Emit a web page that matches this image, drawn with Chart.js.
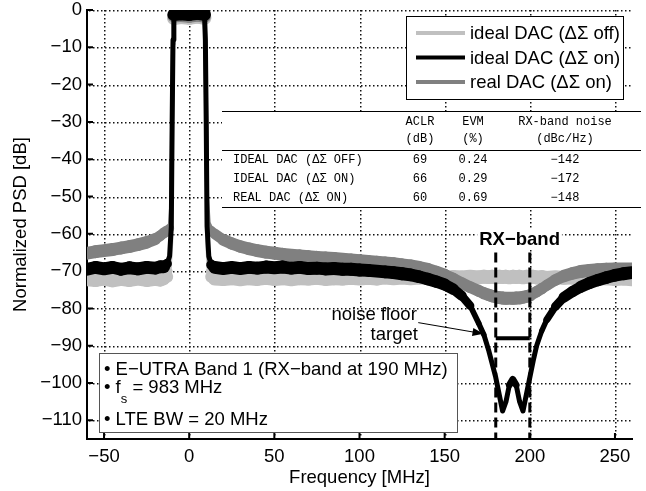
<!DOCTYPE html>
<html>
<head>
<meta charset="utf-8">
<title>Normalized PSD</title>
<script src="https://cdn.jsdelivr.net/npm/chart.js@4.4.1/dist/chart.umd.min.js"></script>
<style>
  html, body { margin: 0; padding: 0; background: #fff; }
  #psdChart { display: block; }
</style>
</head>
<body>
<canvas id="psdChart" width="646" height="491"></canvas>
<script>
// ===============================
//  DATA
// ===============================
const freqMHz = [
  -60, -55, -50, -45, -40, -35, -30, -25, -20, -17, -15, -13, -11.5, -10.5, -10, -9.5, -9,
  -5, 0, 5, 9, 9.5, 10, 10.5, 11.5, 13, 15,
  20, 25, 30, 35, 40, 45, 50, 55, 60, 65, 70, 75, 80, 85, 90, 95, 100, 105, 110, 115, 120,
  125, 130, 135, 140, 145, 150, 155, 160, 165, 170,
  173, 176, 178, 180, 182, 184, 186, 188, 190, 192, 194, 196, 198, 200,
  202, 204, 207, 210, 215, 220, 225, 230, 235, 240, 245, 250, 255, 260
];

const idealOffPsd = [
  -72.2, -72.4, -72.0, -72.5, -72.1, -72.4, -72.0, -72.4, -72.1, -72.3, -72.0, -71.5, -70.0, -62, -32, -9, -2.2,
  -1.9, -2.1, -1.8, -2.1, -9, -32, -62, -70.0, -71.5, -72.0,
  -72.1, -71.9, -72.2, -71.9, -72.1, -71.8, -72.1, -71.9, -72.2, -71.9, -72.0, -71.8, -72.1, -71.9, -72.0, -71.8, -72.0, -71.8, -72.0, -71.7, -71.9,
  -71.7, -71.9, -71.7, -71.8, -71.6, -71.8, -71.6, -71.7, -71.5, -71.7,
  -71.5, -71.6, -71.5, -71.7, -71.5, -71.6, -71.5, -71.7, -71.5, -71.6, -71.5, -71.7, -71.5, -71.6,
  -71.5, -71.7, -71.6, -71.8, -71.6, -71.8, -71.7, -71.9, -71.8, -72.0, -71.9, -72.1, -72.0, -72.2
];

const idealOnPsd = [
  -69.5, -69.0, -69.4, -69.0, -69.5, -69.1, -69.4, -69.0, -69.2, -68.8, -68.8, -68.0, -66.0, -58, -30, -8, -1.2,
  -1.0, -1.2, -0.9, -1.2, -8, -30, -58, -66.0, -68.3, -69.0,
  -69.3, -69.0, -69.3, -69.0, -69.2, -68.9, -69.1, -68.9, -69.2, -69.0, -69.3, -69.2, -69.4, -69.3, -69.5, -69.5, -69.7, -69.8, -70.0, -70.2, -70.4,
  -70.7, -71.0, -71.5, -72.1, -72.8, -73.6, -74.8, -76.6, -79.3, -84.0,
  -87.0, -91.5, -95.0, -98.5, -103.0, -107.5, -105.0, -100.5, -99.0, -100.5, -105.0, -107.5, -103.0, -98.5,
  -94.0, -90.0, -86.0, -83.0, -79.5, -77.0, -75.5, -74.2, -73.2, -72.4, -71.7, -71.1, -70.7, -70.4
];

const realOnPsd = [
  -65.2, -64.8, -64.5, -64.2, -63.8, -63.4, -62.9, -62.3, -61.4, -60.5, -59.8, -59.2, -58.5, -52, -28, -8, -1.6,
  -1.5, -1.7, -1.4, -1.7, -8, -28, -50, -57.5, -59.0, -60.0,
  -61.6, -62.6, -63.4, -64.0, -64.5, -64.9, -65.2, -65.5, -65.7, -65.9, -66.1, -66.3, -66.5, -66.6, -66.8, -67.0, -67.2, -67.4, -67.6, -67.8, -68.0,
  -68.3, -68.6, -69.0, -69.5, -70.2, -71.0, -72.0, -73.2, -74.3, -75.3,
  -75.9, -76.4, -76.7, -76.9, -77.1, -77.2, -77.3, -77.3, -77.3, -77.2, -77.2, -77.0, -76.8, -76.5,
  -76.0, -75.5, -74.7, -73.8, -72.4, -71.3, -70.6, -70.1, -69.8, -69.6, -69.5, -69.4, -69.4, -69.4
];

const seriesLabels = ['ideal DAC (\u0394\u03A3 off)', 'ideal DAC (\u0394\u03A3 on)', 'real DAC (\u0394\u03A3 on)'];
const seriesColors = ['#c0c0c0', '#000000', '#808080'];

const xRange = [-60, 260];
const yRange = [-115, 0];
const xTickValues = [-50, 0, 50, 100, 150, 200, 250];
const yTickValues = [0, -10, -20, -30, -40, -50, -60, -70, -80, -90, -100, -110];

const rxBandEdges = [180, 200];
const rxBandLineTop = -65;
const noiseFloorTarget = -88;

const tableHead1 = ['ACLR', 'EVM', 'RX-band noise'];
const tableHead2 = ['(dB)', '(%)', '(dBc/Hz)'];
const tableRows = ['IDEAL DAC (\u0394\u03A3 OFF)', 'IDEAL DAC (\u0394\u03A3 ON)', 'REAL DAC (\u0394\u03A3 ON)'];
const aclrDb = [69, 66, 60];
const evmPct = ['0.24', '0.29', '0.69'];
const rxNoiseDbcHz = [-142, -172, -148];

const minus = v => String(v).replace('-', '\u2212');
const toXY = vals => freqMHz.map((f, i) => ({ x: f, y: vals[i] }));

// noisy traces look like a band: thick when flat, thinner when steep
function noiseBand(band, minW) {
    return ctx => {
        const dx = ctx.p1.x - ctx.p0.x;
        const dy = ctx.p1.y - ctx.p0.y;
        const len = Math.hypot(dx, dy) || 1;
        return Math.max(minW, band * Math.abs(dx) / len);
    };
}

const FONT = '"Liberation Sans", Arial, Helvetica, sans-serif';
const MONO = '"Liberation Mono", "Courier New", monospace';

// ===============================
//  DOTTED GRID (painted behind what is already drawn)
// ===============================
function drawDottedGrid(chart) {
    const { ctx, chartArea: a, scales: { x, y } } = chart;
    ctx.save();
    ctx.globalCompositeOperation = 'destination-over';
    ctx.fillStyle = '#111';
    xTickValues.forEach(v => {
        const p = Math.round(x.getPixelForValue(v));
        for (let q = Math.ceil(a.top); q < a.bottom; q += 4) ctx.fillRect(p, q, 1.5, 1.5);
    });
    yTickValues.forEach(v => {
        const p = Math.round(y.getPixelForValue(v));
        for (let q = Math.ceil(a.left) + 2; q < a.right; q += 4) ctx.fillRect(q, p, 1.5, 1.5);
    });
    ctx.restore();
}

// ===============================
//  OVERLAY: legend, table, notes, ticks
// ===============================
const overlay = {
    id: 'overlay',
    afterDatasetsDraw(chart) {
        drawDottedGrid(chart);
    },
    afterDraw(chart) {
        const { ctx, chartArea: a, scales: { x, y } } = chart;
        const px = v => x.getPixelForValue(v);
        const py = v => y.getPixelForValue(v);
        ctx.save();
        ctx.globalCompositeOperation = 'source-over';

        // legend
        ctx.fillStyle = '#fff';
        ctx.fillRect(406, 16, 217, 83);
        ctx.lineWidth = 1;
        ctx.strokeStyle = '#000';
        ctx.strokeRect(406.5, 16.5, 217, 83);
        ctx.font = '18.5px ' + FONT;
        ctx.textBaseline = 'middle';
        ctx.textAlign = 'left';
        seriesLabels.forEach((lbl, i) => {
            const ry = 33 + i * 24.5;
            ctx.strokeStyle = seriesColors[i];
            ctx.lineWidth = 4;
            ctx.beginPath();
            ctx.moveTo(416, ry);
            ctx.lineTo(465, ry);
            ctx.stroke();
            ctx.fillStyle = '#000';
            ctx.fillText(lbl, 470, ry + 1);
        });

        // table
        ctx.fillStyle = '#fff';
        ctx.fillRect(222, 111, 419, 96);
        ctx.strokeStyle = '#000';
        ctx.lineWidth = 1;
        ctx.beginPath();
        [111.5, 150.5, 207.5].forEach(ly => { ctx.moveTo(222, ly); ctx.lineTo(641, ly); });
        ctx.stroke();
        ctx.fillStyle = '#000';
        ctx.font = '12px ' + MONO;
        const colX = [420, 473, 565];
        ctx.textAlign = 'center';
        tableHead1.forEach((t, i) => ctx.fillText(t, colX[i], 122));
        tableHead2.forEach((t, i) => ctx.fillText(t, colX[i], 139));
        tableRows.forEach((name, r) => {
            const ry = 160 + r * 19;
            ctx.textAlign = 'left';
            ctx.fillText(name, 233, ry);
            ctx.textAlign = 'center';
            ctx.fillText(String(aclrDb[r]), colX[0], ry);
            ctx.fillText(evmPct[r], colX[1], ry);
            ctx.fillText(minus(rxNoiseDbcHz[r]), colX[2], ry);
        });

        // info box
        ctx.fillStyle = '#fff';
        ctx.fillRect(99, 353, 358, 79);
        ctx.strokeStyle = '#555';
        ctx.lineWidth = 1;
        ctx.strokeRect(99.5, 353.5, 358, 79);
        ctx.fillStyle = '#000';
        ctx.textAlign = 'left';
        ctx.font = '18.5px ' + FONT;
        ctx.fillText('\u2022 E\u2212UTRA Band 1 (RX\u2212band at 190 MHz)', 104, 370);
        const fPart = '\u2022 f';
        ctx.fillText(fPart, 104, 388);
        const fw = ctx.measureText(fPart).width;
        ctx.font = '13px ' + FONT;
        ctx.fillText('s', 104 + fw, 399);
        const sw = ctx.measureText('s').width;
        ctx.font = '18.5px ' + FONT;
        ctx.fillText(' = 983 MHz', 104 + fw + sw, 388);
        ctx.fillText('\u2022 LTE BW = 20 MHz', 104, 420);

        // RX-band label
        ctx.font = 'bold 18.5px ' + FONT;
        ctx.textAlign = 'center';
        const rxLbl = 'RX\u2212band';
        const rw = ctx.measureText(rxLbl).width;
        const lx = px(194), ly = py(-61.3);
        ctx.fillStyle = '#fff';
        ctx.fillRect(lx - rw / 2 - 2, ly - 10, rw + 4, 20);
        ctx.fillStyle = '#000';
        ctx.fillText(rxLbl, lx, ly + 1);

        // noise floor target note + arrow
        ctx.font = '18.5px ' + FONT;
        ctx.fillText('noise floor', px(108.6), py(-81.7));
        ctx.fillText('target', px(120.4), py(-87.1));
        const x0 = px(134.5), y0 = py(-83.8), x1 = px(172.8), y1 = py(-86.8);
        const ang = Math.atan2(y1 - y0, x1 - x0);
        ctx.strokeStyle = '#000';
        ctx.lineWidth = 1;
        ctx.beginPath();
        ctx.moveTo(x0, y0);
        ctx.lineTo(x1 - 8 * Math.cos(ang), y1 - 8 * Math.sin(ang));
        ctx.stroke();
        ctx.beginPath();
        ctx.moveTo(x1, y1);
        ctx.lineTo(x1 - 11 * Math.cos(ang) + 4 * Math.sin(ang), y1 - 11 * Math.sin(ang) - 4 * Math.cos(ang));
        ctx.lineTo(x1 - 11 * Math.cos(ang) - 4 * Math.sin(ang), y1 - 11 * Math.sin(ang) + 4 * Math.cos(ang));
        ctx.closePath();
        ctx.fill();

        // inward tick marks (on top of everything)
        ctx.strokeStyle = '#000';
        ctx.lineWidth = 2;
        ctx.beginPath();
        xTickValues.forEach(v => { ctx.moveTo(px(v), a.bottom); ctx.lineTo(px(v), a.bottom - 6); });
        yTickValues.forEach(v => { ctx.moveTo(a.left, py(v)); ctx.lineTo(a.left + 6, py(v)); });
        ctx.stroke();

        ctx.restore();
    }
};

// ===============================
//  CHART
// ===============================
const traceStyle = {
    pointRadius: 0,
    tension: 0,
    fill: false,
    borderCapStyle: 'round',
    borderJoinStyle: 'round'
};

const gridStyle = { display: false, drawTicks: false };
const borderStyle = { display: true, color: '#000', width: 2 };

new Chart(document.getElementById('psdChart'), {
    type: 'line',
    data: {
        datasets: [
            { ...traceStyle, label: seriesLabels[0], data: toXY(idealOffPsd), borderColor: seriesColors[0], borderWidth: 14, order: 3,
              segment: { borderWidth: noiseBand(14, 4) } },
            { ...traceStyle, label: seriesLabels[1], data: toXY(idealOnPsd), borderColor: seriesColors[1], borderWidth: 13, order: 1,
              segment: { borderWidth: noiseBand(13, 5) } },
            { ...traceStyle, label: seriesLabels[2], data: toXY(realOnPsd), borderColor: seriesColors[2], borderWidth: 13, order: 2,
              segment: { borderWidth: noiseBand(13, 4) } },
            { label: 'rx-low', data: [{ x: rxBandEdges[0], y: rxBandLineTop }, { x: rxBandEdges[0], y: yRange[0] }],
              borderColor: '#000', borderWidth: 3, borderDash: [10, 5], pointRadius: 0, fill: false, order: 0 },
            { label: 'rx-high', data: [{ x: rxBandEdges[1], y: rxBandLineTop }, { x: rxBandEdges[1], y: yRange[0] }],
              borderColor: '#000', borderWidth: 3, borderDash: [10, 5], pointRadius: 0, fill: false, order: 0 },
            { label: 'target', data: [{ x: rxBandEdges[0], y: noiseFloorTarget }, { x: rxBandEdges[1], y: noiseFloorTarget }],
              borderColor: '#000', borderWidth: 4, pointRadius: 0, fill: false, order: 0 }
        ]
    },
    options: {
        responsive: false,
        animation: false,
        devicePixelRatio: 1,
        layout: { padding: { top: 10, right: 14, left: 0, bottom: 0 } },
        plugins: { legend: { display: false }, tooltip: { enabled: false } },
        scales: {
            x: {
                type: 'linear',
                min: xRange[0],
                max: xRange[1],
                afterBuildTicks: s => { s.ticks = xTickValues.map(v => ({ value: v })); },
                afterFit: s => { s.height = 52; s.paddingLeft = 0; s.paddingRight = 0; },
                ticks: { callback: minus, padding: 7, color: '#000', autoSkip: false, maxRotation: 0, font: { family: FONT, size: 18.5 } },
                grid: gridStyle,
                border: borderStyle,
                title: { display: true, text: 'Frequency [MHz]', color: '#000', font: { family: FONT, size: 18.5 }, padding: { top: 0, bottom: 2 } }
            },
            y: {
                type: 'linear',
                min: yRange[0],
                max: yRange[1],
                afterBuildTicks: s => { s.ticks = yTickValues.map(v => ({ value: v })); },
                afterFit: s => { s.width = 87; s.paddingTop = 0; s.paddingBottom = 0; },
                ticks: { callback: minus, padding: 5, color: '#000', autoSkip: false, font: { family: FONT, size: 18.5 } },
                grid: gridStyle,
                border: borderStyle,
                title: { display: true, text: 'Normalized PSD [dB]', color: '#000', font: { family: FONT, size: 18.5 }, padding: { top: 10, bottom: 0 } }
            }
        }
    },
    plugins: [overlay]
});
</script>
</body>
</html>
